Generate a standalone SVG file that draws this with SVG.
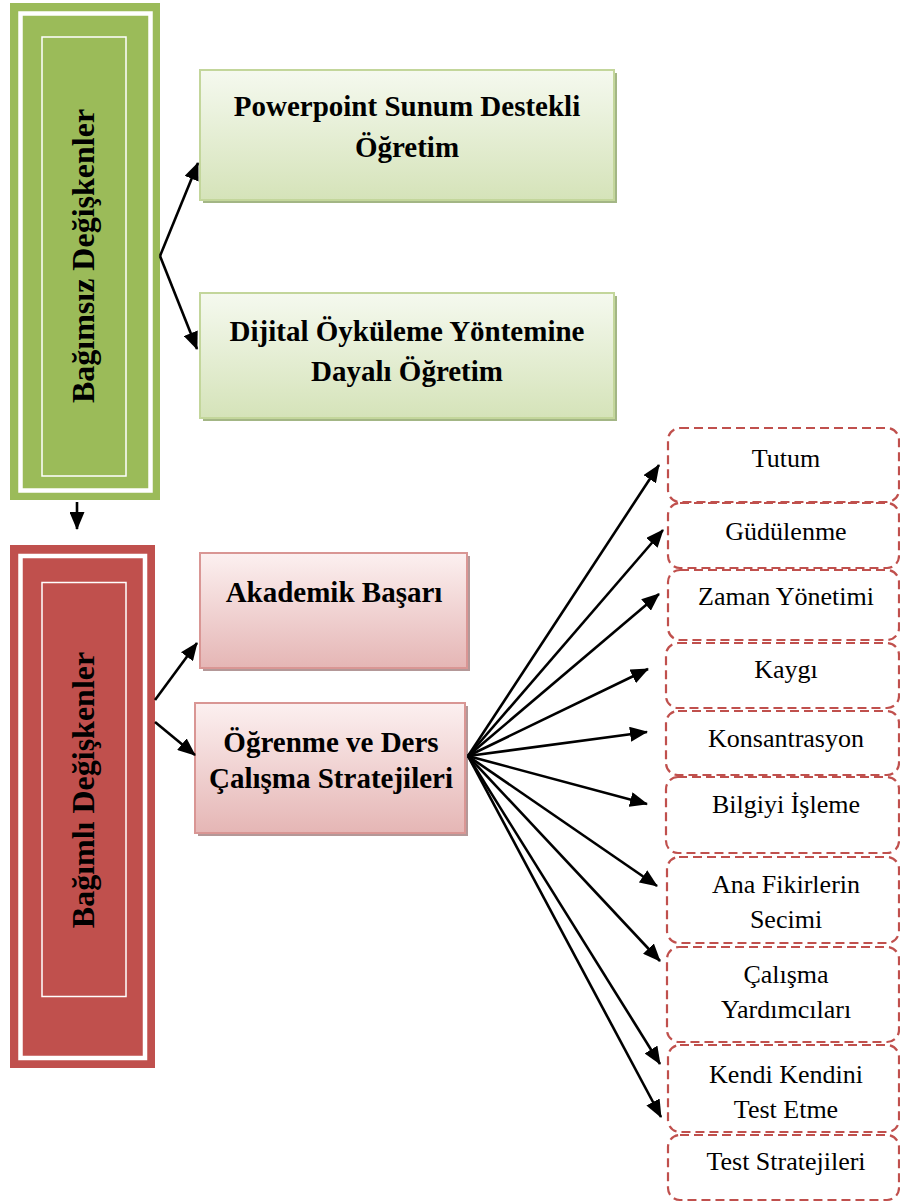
<svg xmlns="http://www.w3.org/2000/svg" width="900" height="1203" viewBox="0 0 900 1203">
<defs>
<linearGradient id="gGreen" x1="0" y1="0" x2="0" y2="1"><stop offset="0" stop-color="#f5f9ef"/><stop offset="1" stop-color="#d5e3b9"/></linearGradient>
<linearGradient id="gRed" x1="0" y1="0" x2="0" y2="1"><stop offset="0" stop-color="#fcf0f0"/><stop offset="1" stop-color="#e5b6b5"/></linearGradient>
<marker id="ah" markerUnits="userSpaceOnUse" markerWidth="18" markerHeight="15" refX="17" refY="7.5" viewBox="0 0 18 15" orient="auto"><path d="M0,0 L18,7.5 L0,15 z" fill="#000"/></marker>
<style>
.bold{font-family:"Liberation Serif","Times New Roman",serif;font-weight:bold;font-size:29px;fill:#000;text-anchor:middle}
.vert{font-family:"Liberation Serif","Times New Roman",serif;font-weight:bold;font-size:32px;fill:#000;text-anchor:middle}
.reg{font-family:"Liberation Serif","Times New Roman",serif;font-size:26px;fill:#000;text-anchor:middle}
.gbox{fill:url(#gGreen);stroke:#c3d69b;stroke-width:2}
.gsh{fill:#a3b685}
.rbox{fill:url(#gRed);stroke:#d99694;stroke-width:2}
.rsh{fill:#b49898}
.dash{fill:#fff;stroke:#c0504d;stroke-width:2.2;stroke-dasharray:9,5}
.wb{fill:none;stroke:#fff;stroke-width:4.5}
.wt{fill:none;stroke:#fff;stroke-width:1.5}
.con{stroke:#000;stroke-width:2.6;fill:none;marker-end:url(#ah)}
</style>
</defs>
<g id="bagimsiz">
<rect x="10" y="3" width="150" height="497" fill="#9bbb59"/>
<rect x="20.5" y="13.5" width="130" height="477" class="wb"/>
<rect x="42" y="37" width="84" height="439" class="wt"/>
<text class="vert" transform="translate(94,256) rotate(-90)">Bağımsız Değişkenler</text>
</g>
<g id="bagimli">
<rect x="10" y="545" width="145" height="523" fill="#c0504d"/>
<rect x="20.5" y="556" width="124.5" height="502" class="wb"/>
<rect x="42" y="582.5" width="84" height="414" class="wt"/>
<text class="vert" transform="translate(94,790) rotate(-90)">Bağımlı Değişkenler</text>
</g>
<g id="powerpoint">
<rect x="203" y="73" width="414" height="130" class="gsh"/>
<rect x="200" y="70" width="414" height="130" class="gbox"/>
<text class="bold" x="407" y="116">Powerpoint Sunum Destekli</text>
<text class="bold" x="407" y="157">Öğretim</text>
</g>
<g id="dijital">
<rect x="203" y="296" width="414" height="125" class="gsh"/>
<rect x="200" y="293" width="414" height="125" class="gbox"/>
<text class="bold" x="407" y="341">Dijital Öyküleme Yöntemine</text>
<text class="bold" x="407" y="381">Dayalı Öğretim</text>
</g>
<g id="akademik">
<rect x="203" y="556" width="267" height="115" class="rsh"/>
<rect x="200" y="553" width="267" height="115" class="rbox"/>
<text class="bold" x="334" y="602">Akademik Başarı</text>
</g>
<g id="ogrenme">
<rect x="198" y="706" width="270" height="130" class="rsh"/>
<rect x="195" y="703" width="270" height="130" class="rbox"/>
<text class="bold" x="331" y="752">Öğrenme ve Ders</text>
<text class="bold" x="331" y="788">Çalışma Stratejileri</text>
</g>
<g id="tutum"><rect x="668" y="428" width="231" height="74" rx="12" class="dash"/><text class="reg" x="786" y="467">Tutum</text></g>
<g id="gudulenme"><rect x="668" y="503" width="231" height="65" rx="12" class="dash"/><text class="reg" x="786" y="540">Güdülenme</text></g>
<g id="zaman"><rect x="668" y="570" width="231" height="70" rx="12" class="dash"/><text class="reg" x="786" y="605">Zaman Yönetimi</text></g>
<g id="kaygi"><rect x="666" y="643" width="233" height="65" rx="12" class="dash"/><text class="reg" x="786" y="678">Kaygı</text></g>
<g id="konsantrasyon"><rect x="666" y="711" width="233" height="64" rx="12" class="dash"/><text class="reg" x="786" y="747">Konsantrasyon</text></g>
<g id="bilgiyi"><rect x="666" y="777" width="233" height="76" rx="12" class="dash"/><text class="reg" x="786" y="813">Bilgiyi İşleme</text></g>
<g id="anafikir"><rect x="667" y="857" width="232" height="86" rx="12" class="dash"/><text class="reg" x="786" y="893">Ana Fikirlerin</text><text class="reg" x="786" y="928">Secimi</text></g>
<g id="calisma"><rect x="667" y="947" width="232" height="95" rx="12" class="dash"/><text class="reg" x="786" y="983">Çalışma</text><text class="reg" x="786" y="1018">Yardımcıları</text></g>
<g id="kendi"><rect x="668" y="1045" width="231" height="87" rx="12" class="dash"/><text class="reg" x="786" y="1083">Kendi Kendini</text><text class="reg" x="786" y="1118">Test Etme</text></g>
<g id="teststrat"><rect x="668" y="1135" width="231" height="65" rx="12" class="dash"/><text class="reg" x="786" y="1170">Test Stratejileri</text></g>
<g id="connectors">
<line class="con" x1="160" y1="256" x2="198" y2="163"/>
<line class="con" x1="160" y1="256" x2="197" y2="349"/>
<line class="con" x1="77" y1="502" x2="77" y2="529"/>
<line class="con" x1="155" y1="700" x2="197" y2="643"/>
<line class="con" x1="155" y1="722" x2="195" y2="755"/>
<line class="con" x1="468" y1="756" x2="659" y2="465"/>
<line class="con" x1="468" y1="756" x2="663" y2="530"/>
<line class="con" x1="468" y1="756" x2="659" y2="594"/>
<line class="con" x1="468" y1="756" x2="648" y2="669"/>
<line class="con" x1="468" y1="756" x2="647" y2="732"/>
<line class="con" x1="468" y1="756" x2="647" y2="804"/>
<line class="con" x1="468" y1="756" x2="657" y2="886"/>
<line class="con" x1="468" y1="756" x2="660" y2="961"/>
<line class="con" x1="468" y1="756" x2="660" y2="1064"/>
<line class="con" x1="468" y1="756" x2="661" y2="1117"/>
</g>
</svg>
